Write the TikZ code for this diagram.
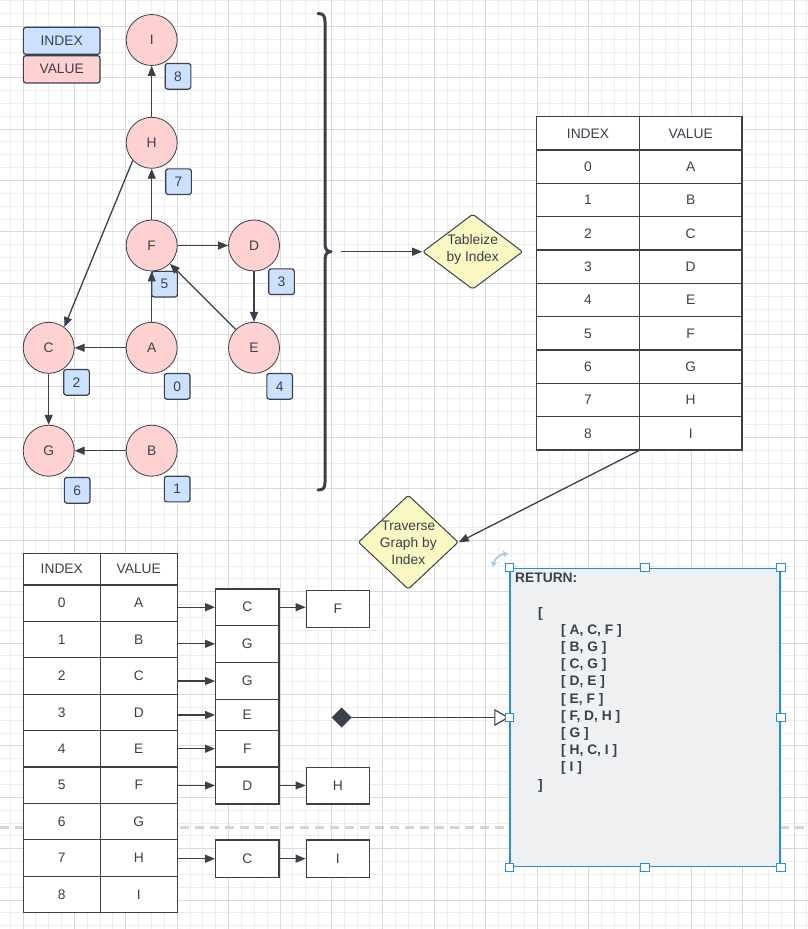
\documentclass[tikz,border=0pt]{standalone}
\usepackage{fontspec}
\setmainfont{Liberation Sans}
\usetikzlibrary{arrows.meta,shapes.geometric}
\definecolor{linec}{HTML}{3A414A}
\definecolor{pinkf}{HTML}{FFD1D1}
\definecolor{bluef}{HTML}{CCE0FF}
\definecolor{yelf}{HTML}{F9F8C2}
\definecolor{retf}{HTML}{EFF0F2}
\definecolor{selc}{HTML}{2A8FD8}
\definecolor{gridmin}{HTML}{EDEDED}
\definecolor{gridmaj}{HTML}{DADADA}
\definecolor{pagec}{HTML}{D4D4D4}
\definecolor{rotc}{HTML}{A9CDF0}
\begin{document}
\begin{tikzpicture}[x=1pt,y=-1pt,
  font=\fontsize{13.8}{17}\selectfont, text=linec,
  vert/.style={circle, draw=linec, line width=0.8, fill=pinkf, minimum size=51, inner sep=0},
  badge/.style={rectangle, rounded corners=2.5, draw=linec, line width=1.2, fill=bluef, minimum width=25.7, minimum height=25.7, inner sep=0},
  legbox/.style={rectangle, rounded corners=2.5, draw=linec, line width=1.2, minimum width=76.7, inner sep=0},
  arr/.style={draw=linec, line width=1.3, -{Triangle[length=10pt,width=8pt]}},
  cell/.style={rectangle, draw=linec, line width=1.3, fill=white, inner sep=0},
  dia/.style={diamond, draw=linec, line width=1, fill=yelf, rounded corners=2, inner sep=0},
  handle/.style={rectangle, draw=selc, line width=1, fill=white, minimum size=8.5, inner sep=0},
  gmin/.style={draw=gridmin, line width=1},
  gmaj/.style={draw=gridmaj, line width=1}]
\useasboundingbox (0,0) rectangle (808,929);
\fill[white] (0,0) rectangle (808,929);
% grid
\foreach \i in {-1,...,61} {\draw[gmin] ({23+12.85*\i},0) -- ({23+12.85*\i},929);}
\foreach \j in {-2,...,70} {\draw[gmin] (0,{26.3+12.85*\j}) -- (808,{26.3+12.85*\j});}
\foreach \i in {0,...,15} {\draw[gmaj] ({23+51.4*\i},0) -- ({23+51.4*\i},929);}
\foreach \j in {0,...,17} {\draw[gmaj] (0,{26.3+51.4*\j}) -- (808,{26.3+51.4*\j});}
% page break line
\draw[pagec, line width=2.7, dash pattern=on 9 off 6] (0,827.5) -- (808,827.5);

% legend
\node[legbox, fill=bluef, minimum height=27] (legi) at (61.7,40.8) {INDEX};
\node[legbox, fill=pinkf, minimum height=27.3] (legv) at (61.7,69.3) {VALUE};

% graph vertices
\node[vert] (I) at (151.7,40) {I};
\node[vert] (H) at (151.7,142.8) {H};
\node[vert] (F) at (151.7,245.5) {F};
\node[vert] (D) at (254,245.5) {D};
\node[vert] (C) at (48.7,347.8) {C};
\node[vert] (A) at (151.7,347.8) {A};
\node[vert] (E) at (254,347.8) {E};
\node[vert] (G) at (48.7,450.7) {G};
\node[vert] (B) at (151.7,450.7) {B};
% index badges
\node[badge] (b8) at (178,76.3) {8};
\node[badge] (b7) at (178.5,181.7) {7};
\node[badge] (b5) at (164.5,284.2) {5};
\node[badge] (b3) at (281.5,281.7) {3};
\node[badge] (b2) at (76.5,382.3) {2};
\node[badge] (b0) at (177.2,386.3) {0};
\node[badge] (b4) at (279.7,386.3) {4};
\node[badge] (b6) at (77.2,490.3) {6};
\node[badge] (b1) at (177.2,489) {1};
% graph edges
\draw[arr] (H) -- (I);
\draw[arr] (F) -- (H);
\draw[arr] (F) -- (D);
\draw[arr] (D) -- (E);
\draw[arr] (E) -- (F);
\draw[arr] (A) -- (F);
\draw[arr] (A) -- (C);
\draw[arr] (H.223) -- (C.53);
\draw[arr] (C) -- (G);
\draw[arr] (B) -- (G);

% brace
\draw[linec, line width=3, line cap=round, line join=round]
  (318,13.5) .. controls (323.5,13.5) and (325,16) .. (325,22) -- (325,244)
  .. controls (325,249) and (327,251.7) .. (331,251.7)
  .. controls (327,251.7) and (325,254.4) .. (325,259.4) -- (325,482)
  .. controls (325,488) and (323.5,490) .. (318,490);
\coordinate (bt) at (341,251.7);

% Tableize diamond
\node[dia, minimum width=100, minimum height=75.3] (tab) at (472.7,251.7) {};
\node[align=center, inner sep=0] (tabtxt) at (472.7,249.5) {Tableize\\by Index};
\draw[arr] (bt) -- (tab.west);

% right table
\node[cell, minimum width=102.6, minimum height=33.33] (rih) at (588,133.4) {INDEX};
\node[cell, minimum width=102.7, minimum height=33.33] (rvh) at (690.7,133.4) {VALUE};
\foreach \v [count=\k from 0] in {A,B,C,D,E,F,G,H,I} {
  \node[cell, minimum width=102.6, minimum height=33.33] (ri\k) at (588,{166.7+33.33*\k}) {\k};
  \node[cell, minimum width=102.7, minimum height=33.33] (rv\k) at (690.7,{166.7+33.33*\k}) {\v};
}

% Traverse diamond
\node[dia, minimum width=100, minimum height=94.3] (trav) at (408.3,542.2) {};
\node[align=center, inner sep=0] (travtxt) at (408.3,543) {Traverse\\Graph by\\Index};
\draw[arr] (rv8.south west) -- (trav.east);

% left table
\node[cell, minimum width=77, minimum height=31.7] (lih) at (61.8,569.2) {INDEX};
\node[cell, minimum width=77, minimum height=31.7] (lvh) at (138.8,569.2) {VALUE};
\foreach \v [count=\k from 0] in {A,B,C,D,E,F,G,H,I} {
  \node[cell, minimum width=77, minimum height=36.4] (li\k) at (61.8,{603.2+36.4*\k}) {\k};
  \node[cell, minimum width=77, minimum height=36.4] (lv\k) at (138.8,{603.2+36.4*\k}) {\v};
}

% adjacency boxes
\node[cell, minimum width=63.3, minimum height=36.3] (m0) at (247.3,607.2) {C};
\node[cell, minimum width=63.3, minimum height=37] (m1) at (247.3,643.8) {G};
\node[cell, minimum width=63.3, minimum height=37.4] (m2) at (247.3,681) {G};
\node[cell, minimum width=63.3, minimum height=30.6] (m3) at (247.3,715) {E};
\node[cell, minimum width=63.3, minimum height=36.7] (m4) at (247.3,748.7) {F};
\node[cell, minimum width=63.3, minimum height=36.7] (m5) at (247.3,785.5) {D};
\node[cell, minimum width=63.3, minimum height=37.3] (m7) at (247.3,858.7) {C};
\node[cell, minimum width=63, minimum height=37] (rF) at (337.8,608.8) {F};
\node[cell, minimum width=63, minimum height=36.7] (rH) at (337.8,785.7) {H};
\node[cell, minimum width=63, minimum height=37.3] (rI) at (337.8,858.7) {I};
\foreach \k in {0,1,2,3,4,5,7} {\draw[arr] (m\k.west -| lv\k.east) -- (m\k.west);}
\draw[arr] (m0.east) -- (m0.east -| rF.west);
\draw[arr] (m5.east) -- (m5.east -| rH.west);
\draw[arr] (m7.east) -- (m7.east -| rI.west);

% return box
\node[rectangle, draw=selc, line width=1.5, fill=retf, minimum width=270, minimum height=298.4, inner sep=0] (ret) at (645,717.5) {};
\coordinate (dstart) at (331.7,717.5);
\draw[draw=linec, line width=1.2, {Diamond[length=20pt,width=20pt,fill=linec]}-{Triangle[length=15pt,width=17pt,fill=white]}] (dstart) -- (ret.west);
\node[anchor=north west, align=left, inner sep=0, font=\bfseries\fontsize{13.8}{17.2}\selectfont] (rettxt) at (515,573)
 {RETURN:\\ \mbox{}\\
  \hspace*{23pt}[\\
  \hspace*{46pt}[ A, C, F ]\\
  \hspace*{46pt}[ B, G ]\\
  \hspace*{46pt}[ C, G ]\\
  \hspace*{46pt}[ D, E ]\\
  \hspace*{46pt}[ E, F ]\\
  \hspace*{46pt}[ F, D, H ]\\
  \hspace*{46pt}[ G ]\\
  \hspace*{46pt}[ H, C, I ]\\
  \hspace*{46pt}[ I ]\\
  \hspace*{23pt}]};
\foreach \a [count=\n] in {north west,north,north east,west,east,south west,south,south east}
  {\node[handle] (hd\n) at (ret.\a) {};}
\draw[rotc, line width=1.8, {Triangle[length=5pt,width=6pt]}-{Triangle[length=5pt,width=6pt]}]
  (493,567) .. controls (494.5,559) and (500,554.5) .. (508.5,553.5);
\end{tikzpicture}
\end{document}
